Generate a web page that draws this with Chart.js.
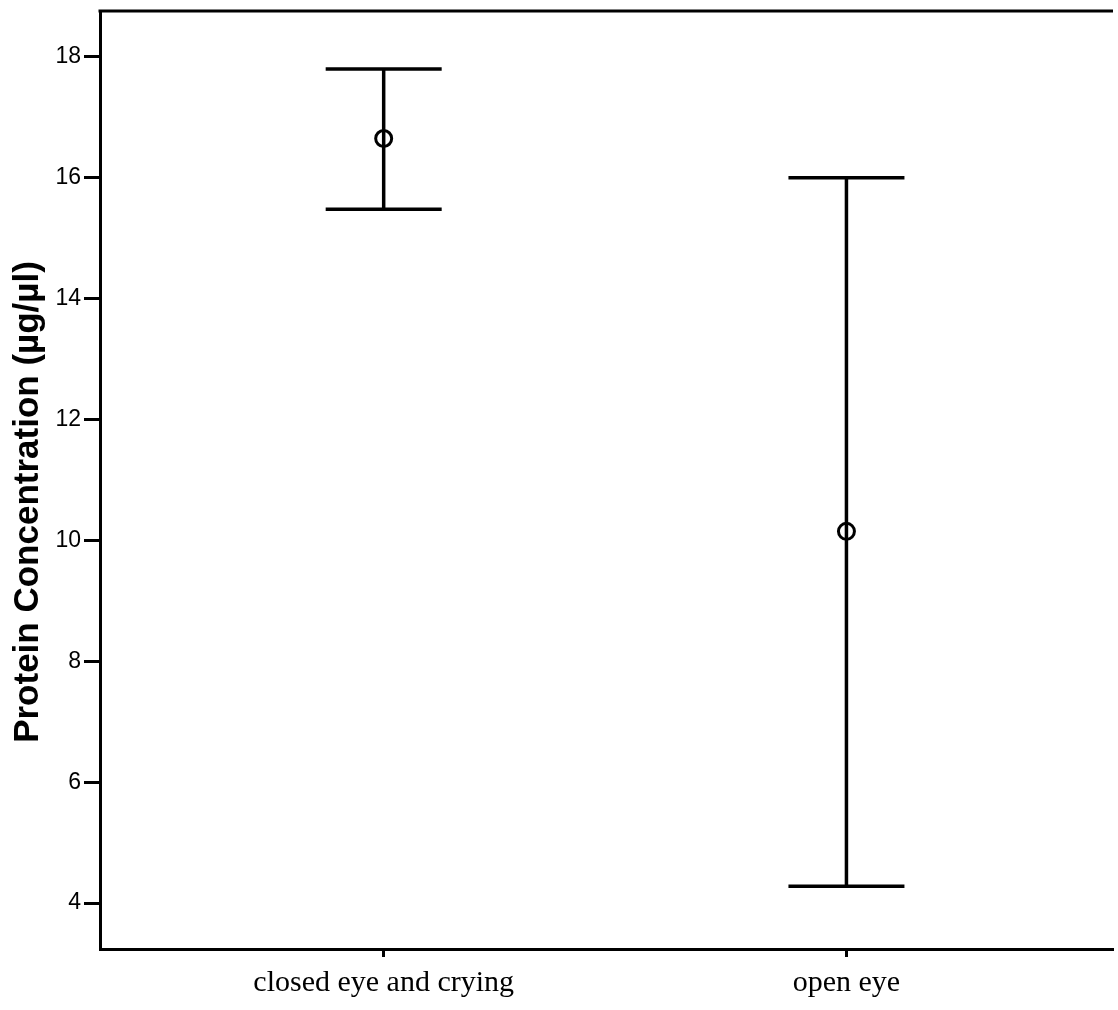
<!DOCTYPE html>
<html>
<head>
<meta charset="utf-8">
<script src="https://cdn.jsdelivr.net/npm/chart.js@4.4.0/dist/chart.umd.min.js"></script>
<style>
  html, body { margin: 0; padding: 0; background: #fff; overflow: hidden; }
  #wrap { width: 1124px; height: 1010px; }
</style>
</head>
<body>
<div id="wrap"><canvas id="chart"></canvas></div>
<script>
/* ---- data ---- */
const groups = ["closed eye and crying", "open eye"];
const means  = [16.65, 10.15];
const upper  = [17.8, 16.0];
const lower  = [15.48, 4.28];
const yTicks = [4, 6, 8, 10, 12, 14, 16, 18];
const yTitle = "Protein Concentration (µg/µl)";

/* ---- error bars (whisker + caps) ---- */
const errorBars = {
    id: "errorBars",
    beforeDatasetsDraw(chart) {
        const { ctx, scales: { x, y } } = chart;
        ctx.save();
        ctx.strokeStyle = "#000";
        ctx.lineWidth = 3.5;
        groups.forEach((g, i) => {
            const px = x.getPixelForValue(i);
            const top = y.getPixelForValue(upper[i]);
            const bot = y.getPixelForValue(lower[i]);
            ctx.beginPath();
            ctx.moveTo(px, top); ctx.lineTo(px, bot);
            ctx.moveTo(px - 58, top); ctx.lineTo(px + 58, top);
            ctx.moveTo(px - 58, bot); ctx.lineTo(px + 58, bot);
            ctx.stroke();
        });
        ctx.restore();
    }
};

/* top edge of the frame + y title (sits a little below centre, like the original) */
const frameTop = {
    id: "frameTop",
    afterDraw(chart) {
        const { ctx, chartArea: a } = chart;
        ctx.save();
        ctx.strokeStyle = "#000";
        ctx.lineWidth = 3;
        ctx.beginPath();
        ctx.moveTo(a.left - 1.5, a.top);
        ctx.lineTo(a.right, a.top);
        ctx.stroke();

        ctx.translate(28, (a.top + a.bottom) / 2 + 22);
        ctx.rotate(-Math.PI / 2);
        ctx.fillStyle = "#000";
        ctx.font = "bold 35px 'Liberation Sans', Arial, sans-serif";
        ctx.textAlign = "center";
        ctx.textBaseline = "middle";
        ctx.fillText(yTitle, 0, 0);
        ctx.restore();
    }
};

new Chart(document.getElementById("chart"), {
    type: "scatter",
    data: {
        datasets: [{
            data: groups.map((g, i) => ({ x: i, y: means[i] })),
            pointStyle: "circle",
            pointRadius: 8,
            pointBorderWidth: 3,
            borderColor: "#000",
            backgroundColor: "rgba(0,0,0,0)"
        }]
    },
    options: {
        responsive: true,
        maintainAspectRatio: false,
        animation: false,
        layout: { padding: { top: 11, right: 0, left: 0, bottom: 0 } },
        plugins: { legend: { display: false }, tooltip: { enabled: false } },
        scales: {
            x: {
                type: "linear",
                min: -0.613,
                max: 1.576,
                afterBuildTicks: s => { s.ticks = groups.map((g, i) => ({ value: i })); },
                afterFit: s => { s.height = 61; s.paddingLeft = 0; s.paddingRight = 0; },
                ticks: {
                    callback: v => groups[v],
                    color: "#000",
                    font: { family: "'Liberation Serif', 'Times New Roman', serif", size: 30 },
                    padding: 8,
                    maxRotation: 0
                },
                grid: {
                    drawOnChartArea: false,
                    drawTicks: true,
                    tickLength: 8,
                    tickWidth: 3,
                    tickColor: "#000"
                },
                border: { display: true, color: "#000", width: 3 }
            },
            y: {
                min: 3.24,
                max: 18.76,
                afterBuildTicks: s => { s.ticks = yTicks.map(v => ({ value: v })); },
                afterFit: s => { s.width = 100; s.paddingTop = 0; s.paddingBottom = 0; },
                ticks: {
                    color: "#000",
                    font: { family: "'Liberation Sans', Arial, sans-serif", size: 23 },
                    padding: 3
                },
                grid: {
                    drawOnChartArea: false,
                    drawTicks: true,
                    tickLength: 16,
                    tickWidth: 3,
                    tickColor: "#000"
                },
                border: { display: true, color: "#000", width: 3 }
            }
        }
    },
    plugins: [errorBars, frameTop]
});
</script>
</body>
</html>
